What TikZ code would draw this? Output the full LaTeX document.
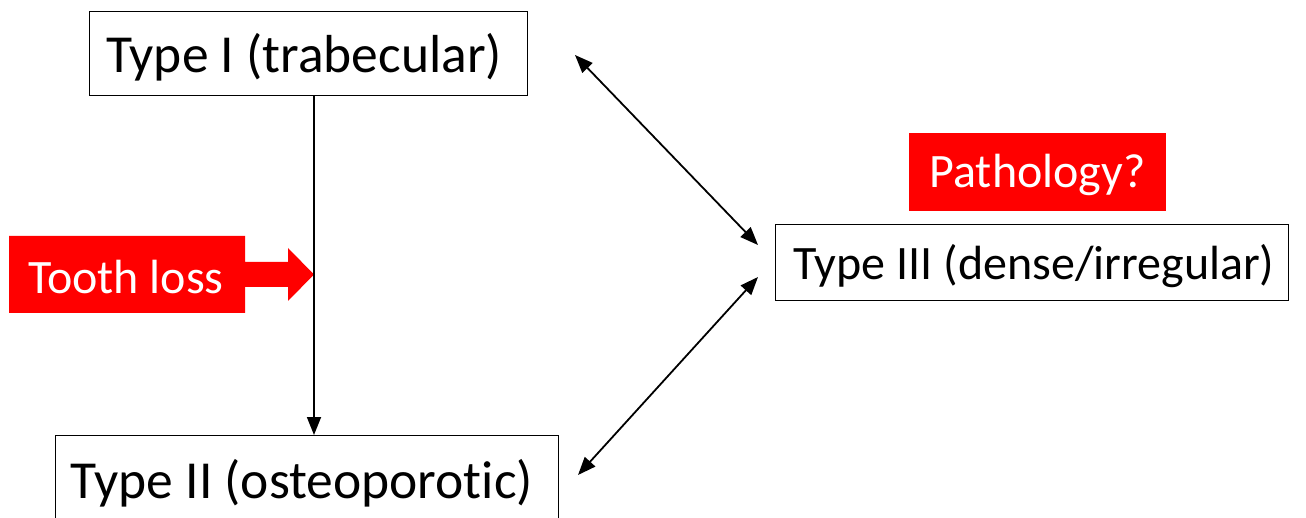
\documentclass[tikz,border=0pt]{standalone}
\usepackage{fontspec}
\setmainfont[Ligatures=NoCommon]{Carlito}
\usetikzlibrary{arrows.meta}
\definecolor{pred}{RGB}{255,0,0}
\tikzset{
  box/.style={draw=black, line width=1.3pt, inner sep=0pt, anchor=north west},
  big/.style={font=\fontsize{53.5}{58}\selectfont},
  mid/.style={font=\fontsize{48}{52}\selectfont},
  redbox/.style={fill=pred, text=white, inner sep=0pt},
  conn/.style={line width=1.8pt, -{Triangle[length=18pt,width=14pt]}},
  dconn/.style={line width=1.8pt, {Triangle[length=18pt,width=14pt]}-{Triangle[length=18pt,width=14pt]}}
}
\begin{document}
\begin{tikzpicture}[x=1pt,y=-1pt]
\useasboundingbox (0,0) rectangle (1306,518);
% boxes
\node[box, minimum width=438pt, minimum height=84pt] (t1) at (89,11) {};
\node[big] (t1t) at (304,57) {Type I (trabecular)};
\node[box, minimum width=503pt, minimum height=100pt] (t2) at (55,435) {};
\node[big] (t2t) at (302,483) {Type II (osteoporotic)};
\node[box, minimum width=513pt, minimum height=76pt] (t3) at (775,224) {};
\node[mid] (t3t) at (1034,266) {Type III (dense/irregular)};
% pathology
\node[redbox, minimum width=257pt, minimum height=78pt] (path) at (1037.5,172) {};
\node[mid, text=white] (patht) at (1037.5,175) {Pathology?};
% tooth loss arrow
\fill[pred] (9,236) -- (245,236) -- (245,262) -- (288,262) -- (288,248) -- (314,274.5)
  -- (288,301) -- (288,287) -- (245,287) -- (245,313) -- (9,313) -- cycle;
\node[text=white, mid] (tl) at (126,277) {Tooth loss};
% connectors
\coordinate (a1s) at (575,55);
\coordinate (a1e) at (758,245);
\coordinate (a2s) at (758,277);
\coordinate (a2e) at (578,475);
\draw[conn] (t1.south -| 314,0) -- (t2.north -| 314,0);
\draw[dconn] (a1s) -- (a1e);
\draw[dconn] (a2s) -- (a2e);
\end{tikzpicture}
\end{document}
